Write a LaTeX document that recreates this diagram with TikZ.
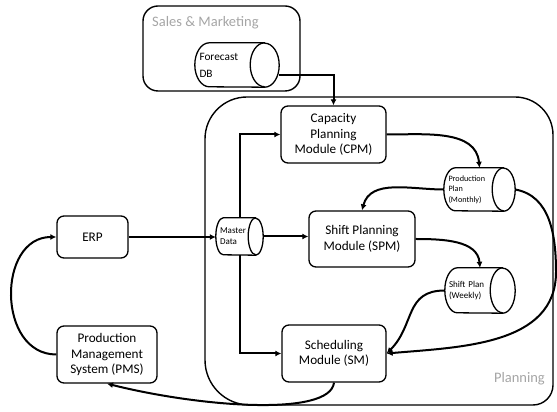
\documentclass[tikz,border=0pt]{standalone}
\usepackage{fontspec}
\setmainfont{Carlito}
\usetikzlibrary{arrows.meta}
\definecolor{lbl}{RGB}{165,165,165}
\tikzset{
  box/.style={draw, line width=1.3pt, rounded corners=7pt, align=center, fill=white,
    font=\fontsize{13.2}{15.5}\selectfont, inner sep=0pt},
  dbnode/.style={inner xsep=4.5pt, inner ysep=0pt, align=left},
  dbline/.style={line width=1.3pt, line join=round},
  conn/.style={line width=2pt, -{Latex[length=6pt,width=6pt]}},
  grp/.style={line width=1.4pt},
  grplabel/.style={text=lbl, font=\fontsize{14.5}{16}\selectfont, inner sep=0pt}
}
% cylinder outline around a named node: #1 name, #2 x radius, #3 y radius
\newcommand\dbdraw[3]{%
  \draw[dbline] ([xshift=-#2pt]#1.north east) -- ([xshift=#2pt]#1.north west)
    arc[start angle=90, end angle=270, x radius=#2pt, y radius=#3pt]
    -- ([xshift=-#2pt]#1.south east)
    arc[start angle=-90, end angle=90, x radius=#2pt, y radius=#3pt] -- cycle;
  \draw[dbline] ([xshift=-#2pt]#1.north east)
    arc[start angle=90, end angle=270, x radius=#2pt, y radius=#3pt];
}
\begin{document}
\begin{tikzpicture}[x=1pt,y=1pt]
\useasboundingbox (0,0) rectangle (557,412);
% groups
\draw[grp, rounded corners=15pt] (143,321) rectangle (300,406);
\node[grplabel, anchor=base west] (salesl) at (152,385) {Sales \& Marketing};
\draw[grp] (380,315) -- (515,315) to[out=0,in=90] (553,277) -- (553,27)
  to[out=-90,in=0] (533,7) -- (250,7) to[out=180,in=-90] (205,52) -- (205,273)
  to[out=90,in=180] (247,315) -- cycle;
\node[grplabel, anchor=base east] (planl) at (545,29) {Planning};
% modules
\node[box, minimum width=105, minimum height=57] (CPM) at (333.5,277.5) {Capacity\\Planning\\Module (CPM)};
\node[box, minimum width=106, minimum height=56] (SPM) at (362,173) {Shift Planning\\Module (SPM)};
\node[box, minimum width=104, minimum height=57] (SM) at (334,58.5) {Scheduling\\Module (SM)};
\node[box, minimum width=71, minimum height=42] (ERP) at (92.5,175) {ERP};
\node[box, minimum width=100, minimum height=57] (PMS) at (107,57.5) {Production\\Management\\System (PMS)};
% data stores
\node[dbnode, minimum width=84, minimum height=44, text width=75pt,
  font=\fontsize{11.3}{17}\selectfont] (FDB) at (237,347) {Forecast\\DB};
\dbdraw{FDB}{14.5}{22}
\node[dbnode, minimum width=47, minimum height=37, text width=39pt, inner xsep=4pt,
  font=\fontsize{9}{11}\selectfont] (MD) at (239.5,175.5) {Master\\Data};
\dbdraw{MD}{7.5}{18.5}
\node[dbnode, minimum width=71, minimum height=43, text width=62pt,
  font=\fontsize{8.2}{10.5}\selectfont] (PP) at (479.5,222.5) {Production\\Plan\\(Monthly)};
\dbdraw{PP}{11.5}{21.5}
\node[dbnode, minimum width=70, minimum height=45, text width=62pt, inner xsep=4pt,
  font=\fontsize{9}{11}\selectfont] (SW) at (480,121.5) {Shift Plan\\(Weekly)};
\dbdraw{SW}{12.5}{22.5}
% connectors
\draw[conn] ([yshift=-10pt]FDB.east) -| (CPM.north);
\draw[conn] (ERP.east) -- (ERP.east -| MD.west);
\draw[conn] (MD.east) -- (MD.east -| SPM.west);
\draw[conn] (MD.north) |- (CPM.west);
\draw[conn] (MD.south) |- (SM.west);
\draw[conn] (CPM.east) to[out=0,in=95] (PP.north);
\draw[conn] (PP.west) to[out=180,in=75] (SPM.north);
\draw[conn] (SPM.east) to[out=0,in=95] (SW.north);
\draw[conn] (PP.east) to[out=-10,in=90] (556,140) to[out=-90,in=5] (SM.east);
\draw[conn] (SW.west) to[out=180,in=45,looseness=1.2] (SM.east);
\draw[conn] (SM.south) .. controls (330,-5) and (200,5) .. (PMS.south);
\draw[conn] (PMS.west) to[out=180,in=180,looseness=1.3] (ERP.west);
\end{tikzpicture}
\end{document}
